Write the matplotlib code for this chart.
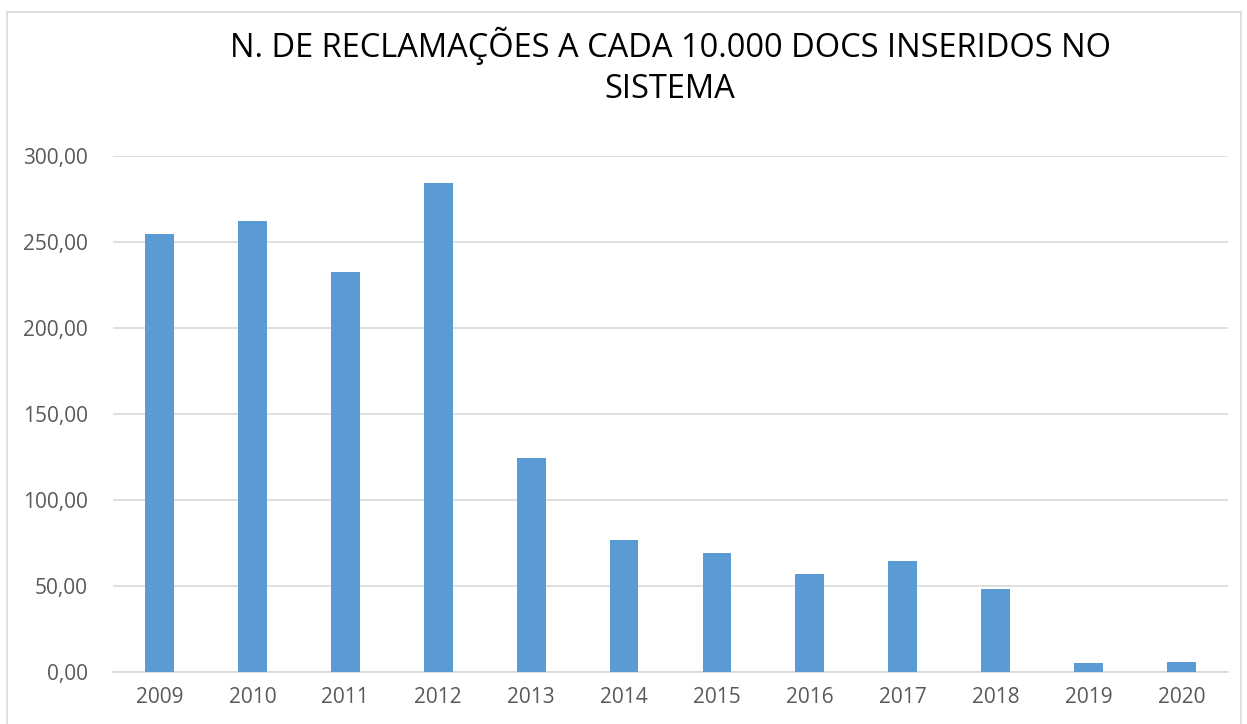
import matplotlib.pyplot as plt
from matplotlib.patches import Rectangle

anos = ["2009", "2010", "2011", "2012", "2013", "2014", "2015", "2016",
        "2017", "2018", "2019", "2020"]
reclamacoes = [254.6, 262.2, 232.3, 284.2, 124.4, 76.6, 69.0, 57.0,
               64.5, 48.3, 5.0, 5.8]
y_ticks = [0, 50, 100, 150, 200, 250, 300]

plt.rcParams["font.family"] = ["Open Sans", "DejaVu Sans"]

fig = plt.figure(figsize=(12.47, 7.24), dpi=100)
ax = fig.add_axes([113 / 1247, 1 - 672 / 724, (1228 - 113) / 1247, (672 - 156) / 724])

ax.bar(range(len(anos)), reclamacoes, width=0.31, color="#5B9BD5", zorder=3)

ax.set_xlim(-0.5, len(anos) - 0.5)
ax.set_ylim(0, 300)
ax.set_yticks(y_ticks)
ax.set_yticklabels([f"{v:.2f}".replace(".", ",") for v in y_ticks])
ax.set_xticks(range(len(anos)))
ax.set_xticklabels(anos)

ax.grid(axis="y", color="#D9D9D9", linewidth=1.2, zorder=0)
for lado in ["top", "right", "left"]:
    ax.spines[lado].set_visible(False)
ax.spines["bottom"].set_color("#D9D9D9")
ax.spines["bottom"].set_linewidth(1.2)
ax.tick_params(axis="both", length=0, labelsize=15, labelcolor="#595959")
ax.tick_params(axis="y", pad=18)
ax.tick_params(axis="x", pad=11)

fig.text(670 / 1247, 1 - 46 / 724, "N. DE RECLAMAÇÕES A CADA 10.000 DOCS INSERIDOS NO",
         ha="center", va="center", fontsize=23.5, color="#000000")
fig.text(670 / 1247, 1 - 90 / 724, "SISTEMA",
         ha="center", va="center", fontsize=23.5, color="#000000")

# moldura da área do gráfico
fig.patches.append(Rectangle((7 / 1247, -0.05), (1241 - 7) / 1247, 1.05 - 12 / 724,
                             transform=fig.transFigure, fill=False,
                             edgecolor="#D9D9D9", linewidth=1.2))

plt.savefig("out.png", dpi=100)
plt.close()
